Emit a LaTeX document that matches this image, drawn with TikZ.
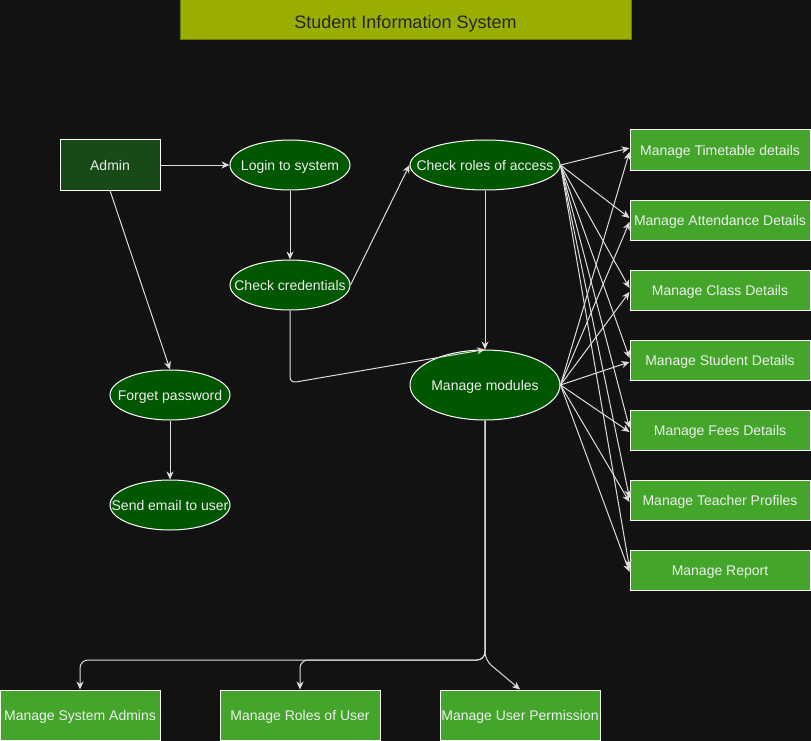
\documentclass[tikz,border=0pt]{standalone}
\usepackage{fontspec}
\setmainfont{Liberation Sans}
\usetikzlibrary{arrows.meta,shapes.geometric}
\definecolor{bgdark}{HTML}{121212}
\definecolor{headolive}{HTML}{99AE00}
\definecolor{headedge}{HTML}{6A7A00}
\definecolor{admgreen}{HTML}{174A17}
\definecolor{ucgreen}{HTML}{005700}
\definecolor{taskgreen}{HTML}{43A62A}
\definecolor{txtlight}{HTML}{EEEEEE}
\definecolor{wire}{HTML}{DDDDDD}
\newcommand{\uctext}[1]{\makebox[0pt]{#1}}
\begin{document}
\begin{tikzpicture}[x=1pt,y=-1pt,
    txt/.style={text=txtlight,font=\fontsize{14}{16}\selectfont,inner sep=0pt,
        text height=12pt,text depth=1pt},
    usecase/.style={txt,ellipse,draw=white,fill=ucgreen,line width=1pt,
        minimum width=120pt,minimum height=50pt},
    taskbox/.style={txt,rectangle,draw=white,fill=taskgreen,line width=1pt,
        minimum width=180pt,minimum height=40pt},
    lowbox/.style={taskbox,minimum width=160pt,minimum height=50pt},
    flow/.style={draw=wire,line width=1pt,
        -{Stealth[length=8pt,width=7pt,inset=2.5pt]}}]
    \fill [bgdark] (0,0) rectangle (811,741);
    \useasboundingbox (0,0) rectangle (811,741);
    \node [rectangle,draw=headedge,fill=headolive,line width=1pt,
        minimum width=451pt,minimum height=40pt,text=black!85,inner sep=0pt,
        text height=19pt,text depth=2pt,
        font=\fontsize{18}{20}\selectfont] (head) at (405.5,20) {Student Information System};
    \node [txt,rectangle,draw=white,fill=admgreen,line width=1pt,
        minimum width=100pt,minimum height=50pt] (admin) at (110,165) {Admin};
    \node [usecase] (login) at (290,165) {\uctext{Login to system}};
    \node [usecase] (cred) at (290,285) {\uctext{Check credentials}};
    \node [usecase,minimum width=150pt] (roles) at (485,165) {\uctext{Check roles of access}};
    \node [usecase,minimum width=150pt,minimum height=70pt] (mods) at (485,385) {\uctext{Manage modules}};
    \node [usecase] (forgot) at (170,395) {\uctext{Forget password}};
    \node [usecase] (mail) at (170,505) {\uctext{Send email to user}};
    \node [taskbox] (tt) at (720,150) {Manage Timetable details};
    \node [taskbox] (att) at (720,220) {Manage Attendance Details};
    \node [taskbox] (cls) at (720,290) {Manage Class Details};
    \node [taskbox] (stu) at (720,360) {Manage Student Details};
    \node [taskbox] (fee) at (720,430) {Manage Fees Details};
    \node [taskbox] (tch) at (720,500) {Manage Teacher Profiles};
    \node [taskbox] (rep) at (720,570) {Manage Report};
    \node [lowbox] (sysadm) at (80,715) {Manage System Admins};
    \node [lowbox] (urole) at (300,715) {Manage Roles of User};
    \node [lowbox] (uperm) at (520,715) {Manage User Permission};
    \coordinate (bend) at (290,383);
    \coordinate (fork) at (485,660);
    \draw [flow] (admin) -- (login);
    \draw [flow] (login) -- (cred);
    \draw [flow] (admin.south) -- (forgot.north);
    \draw [flow] (forgot) -- (mail);
    \draw [flow] (cred.east) -- (roles.west);
    \draw [flow] (roles) -- (mods);
    \draw [flow,rounded corners=6pt] (cred.south) -- (bend) -- (mods.north);
    \foreach \b in {tt,att,cls,stu,fee,tch,rep} {
        \draw [flow] (roles.east) -- ([yshift=2pt]\b.west);
        \draw [flow] (mods.east) -- ([yshift=-2pt]\b.west);
    }
    \draw [flow,rounded corners=8pt] (mods.south) -- (fork) -| (sysadm.north);
    \draw [flow,rounded corners=8pt] (mods.south) -- (fork) -| (urole.north);
    \draw [flow,rounded corners=8pt] (mods.south) -- (fork) -- (uperm.north);
\end{tikzpicture}
\end{document}
